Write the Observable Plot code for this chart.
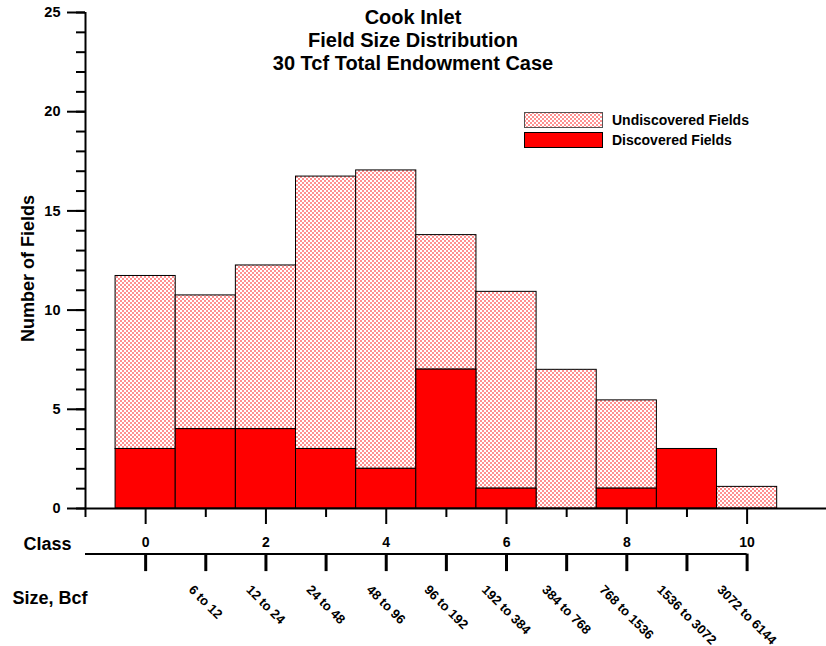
<!DOCTYPE html>
<html><head><meta charset="utf-8">
<script src="https://cdn.jsdelivr.net/npm/d3@7"></script>
<script src="https://cdn.jsdelivr.net/npm/@observablehq/plot@0.6"></script>
<style>
body{margin:0;background:#fff;}
#wrap{position:relative;width:826px;height:646px;font-family:"Liberation Sans",Arial,sans-serif;font-weight:bold;color:#000;}
#title{position:absolute;left:0;top:6px;width:826px;text-align:center;font-size:20px;line-height:23px;}
#legend{position:absolute;left:524px;top:112px;}
</style></head><body>
<div id="wrap"><div id="chart"></div><div id="title"></div><div id="legend"></div></div>
<script>
const titleLines = ["Cook Inlet", "Field Size Distribution", "30 Tcf Total Endowment Case"];
const classes = [0, 1, 2, 3, 4, 5, 6, 7, 8, 9, 10];
const discovered = [3, 4, 4, 3, 2, 7, 1, 0, 1, 3, 0];
const undiscovered = [8.72, 6.74, 8.25, 13.73, 15.04, 6.78, 9.92, 6.99, 4.45, 0, 1.09];
const sizeLabels = ["", "6 to 12", "12 to 24", "24 to 48", "48 to 96", "96 to 192", "192 to 384", "384 to 768", "768 to 1536", "1536 to 3072", "3072 to 6144"];
const yMajorTicks = [0, 5, 10, 15, 20, 25];
const yMinorTicks = d3.range(0, 26);
const classLabelTicks = [0, 2, 4, 6, 8, 10];
const classMinorTicks = [-1, 1, 3, 5, 7, 9];
const seriesNames = ["Undiscovered Fields", "Discovered Fields"];
const axisTitles = {y: "Number of Fields", cls: "Class", size: "Size, Bcf"};

const rows = classes.map((c, i) => ({c, x1: c - 0.5, x2: c + 0.5, d: discovered[i], u: undiscovered[i], total: discovered[i] + undiscovered[i]}));
const xMin = classes[0] - 1;
const xMax = classes[classes.length - 1];

// measure rotated label widths so each label's rotated box hangs centred under its tick
const sizeFont = 13;
const ctx = document.createElement("canvas").getContext("2d");
ctx.font = `bold ${sizeFont}px "Liberation Sans", Arial, sans-serif`;
const capH = 0.716 * sizeFont;
const sizeLabelMarks = sizeLabels.map((t, i) => {
  const L = ctx.measureText(t).width;
  const W = (L + capH) * Math.SQRT1_2;
  return Plot.text([t], {x: () => classes[i], text: d => d, frameAnchor: "bottom", rotate: 45, textAnchor: "start", lineAnchor: "bottom",
    dx: -W / 2, dy: 75.5 + capH * Math.SQRT1_2, fontSize: sizeFont});
});

const svg = Plot.plot({
  width: 826, height: 646,
  marginLeft: 85, marginRight: 0, marginTop: 12, marginBottom: 138,
  style: {fontFamily: "Liberation Sans, Arial, sans-serif", fontWeight: "bold", fontSize: "14px", color: "black", background: "white", overflow: "visible"},
  x: {domain: [xMin, 11.32]},
  y: {domain: [0, 25]},
  marks: [
    Plot.rect(rows.filter(r => r.u > 0), {x1: "x1", x2: "x2", y1: "d", y2: "total", fill: "url(#hatch)", stroke: "black", strokeWidth: 1}),
    Plot.rect(rows.filter(r => r.d > 0), {x1: "x1", x2: "x2", y1: 0, y2: "d", fill: "#ff0000", stroke: "black", strokeWidth: 1}),
    Plot.ruleX([xMin], {strokeWidth: 2}),
    Plot.ruleY([0], {strokeWidth: 2}),
    Plot.axisY({ticks: yMajorTicks, tickSize: 18, tickPadding: 7, strokeWidth: 2, fontSize: 14.5, label: null}),
    Plot.axisY({ticks: yMinorTicks, tickSize: 9, strokeWidth: 2, tickFormat: () => "", label: null}),
    Plot.axisX({ticks: classLabelTicks, tickSize: 16, tickPadding: 12.5, strokeWidth: 2, fontSize: 14, label: null}),
    Plot.axisX({ticks: classMinorTicks, tickSize: 9, strokeWidth: 2, tickFormat: () => "", label: null}),
    Plot.ruleY([0], {x1: xMin, x2: xMax, dy: 45.6, strokeWidth: 2}),
    Plot.axisX({ticks: classes, tickSize: 17.5, dy: 45.6, strokeWidth: 3, tickFormat: () => "", label: null}),
    ...sizeLabelMarks,
    Plot.text([axisTitles.cls], {text: d => d, frameAnchor: "bottom-left", textAnchor: "start", lineAnchor: "bottom", dx: -62, dy: 41.5, fontSize: 18}),
    Plot.text([axisTitles.size], {text: d => d, frameAnchor: "bottom-left", textAnchor: "start", lineAnchor: "bottom", dx: -73, dy: 95, fontSize: 18}),
    Plot.text([axisTitles.y], {text: d => d, frameAnchor: "left", rotate: -90, textAnchor: "middle", dx: -57.5, dy: 8, fontSize: 18})
  ]
});

function addHatch(sel, id) {
  const defs = sel.insert("defs", ":first-child");
  const pat = defs.append("pattern").attr("id", id).attr("patternUnits", "userSpaceOnUse").attr("width", 4).attr("height", 4);
  pat.append("rect").attr("width", 4).attr("height", 4).attr("fill", "#fff");
  pat.append("rect").attr("width", 2).attr("height", 2).attr("fill", "#ff9090");
  pat.append("rect").attr("x", 2).attr("y", 2).attr("width", 2).attr("height", 2).attr("fill", "#ff9090");
}
addHatch(d3.select(svg), "hatch");
document.getElementById("chart").appendChild(svg);

const title = d3.select("#title");
titleLines.forEach(t => title.append("div").text(t));

const leg = d3.select("#legend").append("svg").attr("width", 260).attr("height", 40)
  .style("font-family", "Liberation Sans, Arial, sans-serif").style("font-weight", "bold").style("font-size", "14px");
addHatch(leg, "hatchL");
const legFills = ["url(#hatchL)", "#ff0000"];
const legStrokes = ["#555", "#000"];
seriesNames.forEach((name, i) => {
  leg.append("rect").attr("x", 0.5).attr("y", 0.5 + i * 20).attr("width", 78).attr("height", 15).attr("fill", legFills[i]).attr("stroke", legStrokes[i]);
  leg.append("text").attr("x", 88).attr("y", 13 + i * 20).text(name);
});
</script>
</body></html>
